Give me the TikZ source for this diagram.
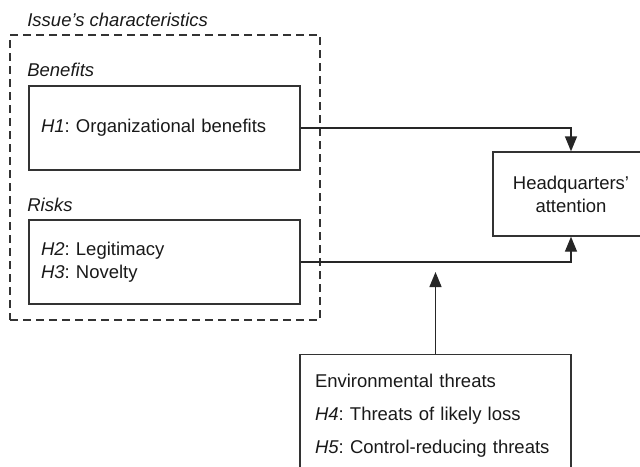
\documentclass[tikz,border=0pt]{standalone}
\usepackage{fontspec}
\setmainfont{Liberation Sans}
\usetikzlibrary{arrows.meta}
\frenchspacing
\begin{document}
\begin{tikzpicture}[
	x=0.6pt, y=-0.6pt,
	font=\fontsize{11.1}{13.8}\selectfont,
	every node/.style={text=black!90},
	box/.style={draw=black!80, line width=0.8pt, rectangle, inner xsep=7.2pt, minimum height=50.4pt, align=left},
	frame/.style={draw=black!80, line width=0.8pt, dash pattern=on 4.8pt off 3pt, rectangle, inner sep=0pt},
	lab/.style={font=\fontsize{11.1}{13.8}\selectfont\itshape, inner sep=0pt},
	arr/.style={draw=black!85, line width=0.8pt, -{Triangle[length=9pt, width=7.2pt]}}
	]
	\useasboundingbox (0,0) rectangle (640,466);
	\clip (0,0) rectangle (640,466);
	% Nodes
	\node[frame, minimum width=186pt, minimum height=171pt] (issues) at (165,177.5) {};
	\node[lab, anchor=west] (issuelab) at (27,20) {Issue's characteristics};
	\node[lab, anchor=west] (benlab) at (27,70) {Benefits};
	\node[lab, anchor=west] (risklab) at (27,205) {Risks};
	\node[box, text width=148.2pt] (benefits) at (164.5,128) {\textit{H1}: Organizational benefits};
	\node[box, text width=148.2pt] (risks) at (164.5,262) {\textit{H2}: Legitimacy\\\textit{H3}: Novelty};
	\node[box, align=center, minimum width=93.6pt] (hq) at (571,194) {Headquarters'\\attention};
	\node[box, anchor=north, inner xsep=9pt, inner ysep=11.4pt, text width=144.6pt,
		font=\fontsize{11.1}{19.8}\selectfont] (env) at (435.5,354)
		{Environmental threats\\\textit{H4}: Threats of likely loss\\\textit{H5}: Control-reducing threats};
	\coordinate (mod) at (435.5,272);

	% Arrows
	\draw[arr] (benefits.east) -| (hq.north);
	\draw[arr] (risks.east) -| (hq.south);
	\draw[arr] (env.north) -- (mod);
\end{tikzpicture}
\end{document}
